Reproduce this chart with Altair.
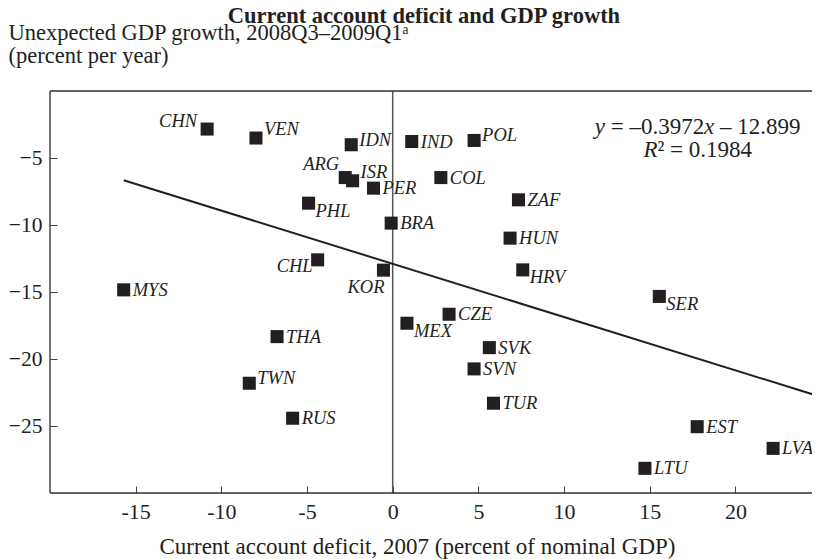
import altair as alt
import pandas as pd

# ---------------- data ----------------
COUNTRIES = ["CHN", "VEN", "IDN", "IND", "POL", "ARG", "ISR", "PER", "COL", "PHL",
             "ZAF", "BRA", "HUN", "CHL", "KOR", "HRV", "MYS", "SER", "CZE", "MEX",
             "THA", "SVK", "SVN", "TWN", "TUR", "RUS", "EST", "LVA", "LTU"]
CA_DEFICIT_2007 = [-10.83, -7.98, -2.42, 1.11, 4.75, -2.77, -2.34, -1.12, 2.81, -4.91,
                   7.34, -0.09, 6.85, -4.38, -0.54, 7.59, -15.70, 15.56, 3.29, 0.83,
                   -6.75, 5.64, 4.75, -8.37, 5.88, -5.84, 17.77, 22.20, 14.72]
GDP_SURPRISE = [-2.84, -3.51, -4.01, -3.77, -3.69, -6.46, -6.70, -7.25, -6.46, -8.37,
                -8.12, -9.86, -10.98, -12.60, -13.37, -13.35, -14.84, -15.33, -16.66, -17.33,
                -18.33, -19.15, -20.74, -21.81, -23.30, -24.42, -25.05, -26.67, -28.16]

# fitted line end points
FIT_X = [-15.70, 25.0]
FIT_Y = [-6.66, -22.83]

X_TICKS = [-15, -10, -5, 0, 5, 10, 15, 20]
Y_TICKS = [-5, -10, -15, -20, -25]
X_DOMAIN = [-20, 24.47]
Y_DOMAIN = [-30, 0]

FONT = "Liberation Serif"
INK = "#231f20"

# equation annotation: (text, italic?, dx from line centre in px), per line
EQ_CENTER_X = 17.8
EQ_LINES = [
    (-3.2, [("y", True, -103.0), ("= \u20130.3972", False, -87.0),
            ("x", True, 6.4), ("\u2013 12.899", False, 22.4)]),
    (-4.9, [("R", True, -54.3), ("\u00b2 = 0.1984", False, -40.3)]),
]

# ---------------- label placement (layout, not data) ----------------
PLACEMENTS = {
    "E": ("left", 9, 0),
    "E_up": ("left", 8, -5),
    "NE": ("left", 8, -9),
    "SE": ("left", 7, 7.5),
    "NW": ("right", -10, -8),
    "NNW": ("right", -6, -14),
    "SW": ("right", -5, 6),
    "S": ("right", 1, 17),
}
LABEL_POS = {
    "POL": "E_up", "TWN": "E_up", "IDN": "E_up",
    "VEN": "NE", "ISR": "NE",
    "PHL": "SE", "HRV": "SE", "MEX": "SE", "SER": "SE",
    "CHN": "NW", "ARG": "NNW", "CHL": "SW", "KOR": "S",
}

df = pd.DataFrame({"country": COUNTRIES, "ca": CA_DEFICIT_2007, "gdp": GDP_SURPRISE})
df["pos"] = [LABEL_POS.get(c, "E") for c in COUNTRIES]
fit = pd.DataFrame({"ca": FIT_X, "gdp": FIT_Y})
one = pd.DataFrame({"v": [0]})

xscale = alt.Scale(domain=X_DOMAIN, nice=False, zero=False)
yscale = alt.Scale(domain=Y_DOMAIN, nice=False, zero=False)

x_axis = alt.Axis(
    values=X_TICKS, grid=False, domain=False, offset=-7, tickSize=7,
    tickColor="#444444", tickWidth=1, labelPadding=8,
    labelFont=FONT, labelFontSize=22, labelColor=INK,
    labelExpr="replace(datum.label, '\u2212', '-')",
    title="Current account deficit, 2007 (percent of nominal GDP)",
    titleFont=FONT, titleFontSize=23, titleFontWeight="normal", titleColor=INK,
    titleAlign="center", titleBaseline="alphabetic", titleX=367, titleY=67,
)
y_axis = alt.Axis(
    values=Y_TICKS, grid=False, domain=False, offset=-7, tickSize=7,
    tickColor="#444444", tickWidth=1, labelPadding=8,
    labelFont=FONT, labelFontSize=21.5, labelColor=INK,
    title=["Unexpected GDP growth, 2008Q3\u20132009Q1\u1d43", "(percent per year)"],
    titleFont=FONT, titleFontSize=22.5, titleFontWeight="normal", titleColor=INK,
    titleAngle=0, titleAlign="left", titleBaseline="alphabetic",
    titleX=-49, titleY=-52, titleLineHeight=23,
)

base = alt.Chart(df)

points = base.mark_square(size=170, color=INK, opacity=1, filled=True).encode(
    x=alt.X("ca:Q", scale=xscale, axis=x_axis),
    y=alt.Y("gdp:Q", scale=yscale, axis=y_axis),
)

label_layers = []
for key, (align, dx, dy) in PLACEMENTS.items():
    label_layers.append(
        base.transform_filter(alt.datum.pos == key)
        .mark_text(font=FONT, fontSize=18.5, fontStyle="italic", color=INK,
                   align=align, baseline="middle", dx=dx, dy=dy)
        .encode(x="ca:Q", y="gdp:Q", text="country:N")
    )

fit_line = alt.Chart(fit).mark_line(color=INK, strokeWidth=2, clip=True).encode(
    x="ca:Q", y="gdp:Q"
)

zero_line = alt.Chart(one).mark_rule(color="#555555", strokeWidth=1.5).encode(
    x=alt.datum(0), y=alt.datum(Y_DOMAIN[0]), y2=alt.datum(Y_DOMAIN[1])
)
frame_left = alt.Chart(one).mark_rule(color="#333333", strokeWidth=1.3).encode(
    x=alt.datum(X_DOMAIN[0]), y=alt.datum(Y_DOMAIN[0]), y2=alt.datum(Y_DOMAIN[1])
)
frame_top = alt.Chart(one).mark_rule(color="#333333", strokeWidth=1.3).encode(
    y=alt.datum(Y_DOMAIN[1]), x=alt.datum(X_DOMAIN[0]), x2=alt.datum(X_DOMAIN[1])
)
frame_bottom = alt.Chart(one).mark_rule(color="#333333", strokeWidth=1.3).encode(
    y=alt.datum(Y_DOMAIN[0]), x=alt.datum(X_DOMAIN[0]), x2=alt.datum(X_DOMAIN[1])
)

eq_layers = []
for y_val, pieces in EQ_LINES:
    for txt, italic, dx in pieces:
        eq_layers.append(
            alt.Chart(one).mark_text(
                text=txt, font=FONT, fontSize=23, color=INK, align="left",
                baseline="alphabetic", dx=dx, fontStyle="italic" if italic else "normal",
            ).encode(x=alt.datum(EQ_CENTER_X), y=alt.datum(y_val))
        )

chart = alt.layer(
    zero_line, frame_left, frame_top, frame_bottom, fit_line, points, *label_layers, *eq_layers
).properties(
    width=762, height=402,
    title=alt.TitleParams(
        "Current account deficit and GDP growth", font=FONT, fontSize=22.5,
        fontWeight="bold", color=INK, anchor="middle", dx=-7, dy=6, offset=0,
    ),
    padding={"left": 42, "top": 83, "right": 0, "bottom": 70},
    autosize=alt.AutoSizeParams(type="none"),
).configure_view(stroke=None).configure(background="white")

chart.save("out.html", embed_options={"renderer": "svg", "actions": False})
